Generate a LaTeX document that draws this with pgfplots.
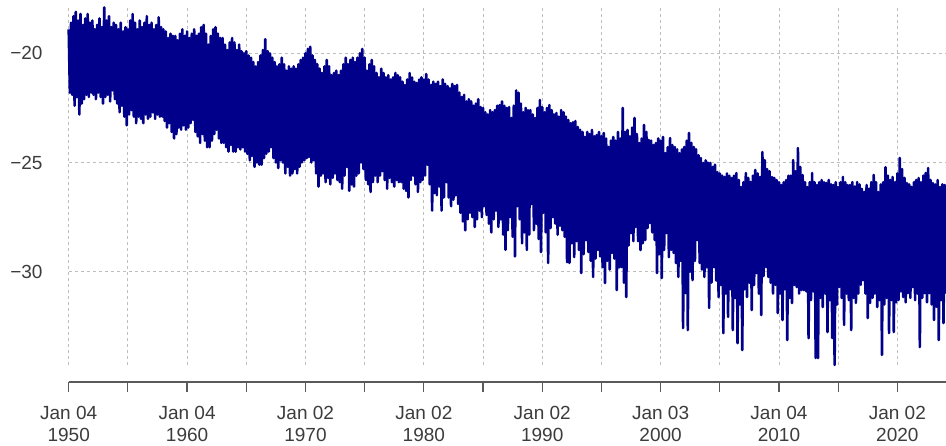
\documentclass[border=0pt]{standalone}
\usepackage{pgfplots}
\pgfplotsset{compat=1.18}
\usepackage{fontspec}
\setmainfont{Liberation Sans}
\definecolor{navyline}{RGB}{0,0,139}
\definecolor{gridgray}{RGB}{190,190,190}
\definecolor{axisgray}{RGB}{90,90,90}
\definecolor{labelgray}{RGB}{60,60,60}
\begin{document}
\begin{tikzpicture}
\useasboundingbox (0,0) rectangle (946bp,446bp);
\begin{axis}[
  at={(68.7bp,81bp)}, anchor=south west, scale only axis,
  width=877.3bp, height=358bp,
  xmin=1950, xmax=2024.11, ymin=-34.27, ymax=-17.88,
  axis line style={draw=none},
  xtick={1950,1955,...,2020}, xticklabels={},
  ytick={-30,-25,-20}, yticklabels={−30,−25,−20},
  major tick length=0pt,
  grid=major,
  grid style={dash pattern=on 3bp off 3bp, line width=0.9bp, color=gridgray},
  yticklabel style={font=\fontsize{19bp}{22bp}\selectfont, text=labelgray, anchor=east, inner sep=0pt, xshift=-26bp},
  clip=false,
]
\addplot[color=navyline, line width=2.6bp, line join=round] coordinates {
(1950.0,-18.9)(1950.1,-21.8)(1950.2,-18.6)(1950.3,-21.9)(1950.4,-18.3)(1950.5,-22.4)(1950.6,-18.1)(1950.7,-22.0)(1950.8,-18.5)(1950.9,-22.8)
(1951.0,-18.2)(1951.1,-22.3)(1951.2,-18.7)(1951.3,-22.1)(1951.4,-18.4)(1951.5,-21.9)(1951.6,-18.2)(1951.7,-22.0)(1951.8,-18.6)(1951.9,-21.8)
(1952.0,-18.5)(1952.1,-21.9)(1952.2,-18.9)(1952.3,-22.1)(1952.4,-18.7)(1952.5,-21.8)(1952.6,-18.4)(1952.7,-22.0)(1952.8,-18.8)(1952.9,-22.3)
(1953.0,-17.9)(1953.1,-22.0)(1953.2,-18.5)(1953.3,-21.9)(1953.4,-18.3)(1953.5,-22.2)(1953.6,-18.8)(1953.7,-21.7)(1953.8,-18.6)(1953.9,-22.1)
(1954.0,-18.7)(1954.1,-22.3)(1954.2,-18.9)(1954.3,-22.7)(1954.4,-18.6)(1954.5,-22.4)(1954.6,-19.0)(1954.7,-22.9)(1954.8,-18.8)(1954.9,-23.3)
(1955.0,-18.9)(1955.1,-22.8)(1955.2,-18.5)(1955.3,-22.6)(1955.4,-18.2)(1955.5,-22.9)(1955.6,-18.6)(1955.7,-23.2)(1955.8,-18.9)(1955.9,-22.9)
(1956.0,-18.5)(1956.1,-23.0)(1956.2,-18.8)(1956.3,-23.2)(1956.4,-18.6)(1956.5,-22.8)(1956.6,-18.3)(1956.7,-23.0)(1956.8,-18.7)(1956.9,-22.9)
(1957.0,-18.6)(1957.1,-22.7)(1957.2,-18.9)(1957.3,-23.0)(1957.4,-18.7)(1957.5,-22.8)(1957.6,-18.35)(1957.7,-22.9)(1957.8,-18.8)(1957.9,-22.9)
(1958.0,-18.9)(1958.1,-23.1)(1958.2,-19.0)(1958.3,-23.4)(1958.4,-19.3)(1958.5,-23.2)(1958.6,-19.1)(1958.7,-23.6)(1958.8,-19.2)(1958.9,-23.9)
(1959.0,-19.2)(1959.1,-23.7)(1959.2,-19.4)(1959.3,-23.4)(1959.4,-19.1)(1959.5,-23.5)(1959.6,-18.9)(1959.7,-23.3)(1959.8,-19.2)(1959.9,-23.5)
(1960.0,-19.0)(1960.1,-23.4)(1960.2,-19.3)(1960.3,-23.2)(1960.4,-19.1)(1960.5,-23.05)(1960.6,-18.9)(1960.7,-23.6)(1960.8,-19.2)(1960.9,-23.8)
(1961.0,-19.1)(1961.1,-24.1)(1961.2,-18.8)(1961.3,-23.7)(1961.4,-18.7)(1961.5,-24.0)(1961.6,-19.1)(1961.7,-24.3)(1961.8,-19.6)(1961.9,-24.3)
(1962.0,-19.2)(1962.1,-24.0)(1962.2,-18.9)(1962.3,-23.7)(1962.4,-18.8)(1962.5,-23.5)(1962.6,-19.1)(1962.7,-23.9)(1962.8,-19.3)(1962.9,-24.1)
(1963.0,-19.3)(1963.1,-24.1)(1963.2,-19.6)(1963.3,-24.3)(1963.4,-19.85)(1963.5,-24.5)(1963.6,-19.5)(1963.7,-24.2)(1963.8,-19.3)(1963.9,-24.5)
(1964.0,-19.5)(1964.1,-24.5)(1964.2,-19.85)(1964.3,-24.3)(1964.4,-19.6)(1964.5,-24.4)(1964.6,-19.9)(1964.7,-24.3)(1964.8,-20.0)(1964.9,-24.5)
(1965.0,-19.9)(1965.1,-24.6)(1965.2,-20.1)(1965.3,-24.9)(1965.4,-20.2)(1965.5,-24.7)(1965.6,-20.4)(1965.7,-25.2)(1965.8,-20.6)(1965.9,-25.0)
(1966.0,-20.4)(1966.1,-25.1)(1966.2,-20.1)(1966.3,-25.1)(1966.4,-19.85)(1966.5,-24.8)(1966.6,-19.35)(1966.7,-24.6)(1966.8,-19.9)(1966.9,-24.5)
(1967.0,-20.0)(1967.1,-24.3)(1967.2,-20.2)(1967.3,-24.8)(1967.4,-20.4)(1967.5,-25.0)(1967.6,-20.6)(1967.7,-25.25)(1967.8,-20.5)(1967.9,-24.9)
(1968.0,-20.2)(1968.1,-25.0)(1968.2,-20.5)(1968.3,-25.5)(1968.4,-20.8)(1968.5,-25.2)(1968.6,-20.6)(1968.7,-25.6)(1968.8,-20.7)(1968.9,-25.5)
(1969.0,-20.6)(1969.1,-25.3)(1969.2,-20.7)(1969.3,-25.5)(1969.4,-20.5)(1969.5,-25.2)(1969.6,-20.3)(1969.7,-25.0)(1969.8,-20.2)(1969.9,-24.9)
(1970.0,-20.0)(1970.1,-24.8)(1970.2,-19.8)(1970.3,-24.75)(1970.4,-19.7)(1970.5,-25.0)(1970.6,-20.1)(1970.7,-24.9)(1970.8,-20.3)(1970.9,-25.5)
(1971.0,-20.5)(1971.1,-26.1)(1971.2,-20.7)(1971.3,-25.6)(1971.4,-20.9)(1971.5,-25.5)(1971.6,-20.6)(1971.7,-25.9)(1971.8,-20.3)(1971.9,-25.7)
(1972.0,-20.6)(1972.1,-26.0)(1972.2,-21.0)(1972.3,-25.7)(1972.4,-20.9)(1972.5,-25.5)(1972.6,-20.8)(1972.7,-25.8)(1972.8,-21.0)(1972.9,-25.9)
(1973.0,-20.8)(1973.1,-26.2)(1973.2,-20.5)(1973.3,-25.6)(1973.4,-20.2)(1973.5,-25.2)(1973.6,-20.5)(1973.7,-26.3)(1973.8,-20.3)(1973.9,-26.0)
(1974.0,-20.2)(1974.1,-26.1)(1974.2,-20.4)(1974.3,-25.6)(1974.4,-20.2)(1974.5,-25.5)(1974.6,-20.0)(1974.7,-25.0)(1974.8,-19.8)(1974.9,-25.3)
(1975.0,-20.2)(1975.1,-25.8)(1975.2,-20.8)(1975.3,-26.0)(1975.4,-20.5)(1975.5,-26.35)(1975.6,-20.3)(1975.7,-25.9)(1975.8,-20.6)(1975.9,-25.6)
(1976.0,-20.9)(1976.1,-25.9)(1976.2,-21.1)(1976.3,-25.6)(1976.4,-20.7)(1976.5,-25.4)(1976.6,-20.9)(1976.7,-25.8)(1976.8,-21.1)(1976.9,-26.2)
(1977.0,-21.0)(1977.1,-25.7)(1977.2,-21.2)(1977.3,-25.9)(1977.4,-21.1)(1977.5,-26.1)(1977.6,-20.9)(1977.7,-25.8)(1977.8,-21.0)(1977.9,-25.9)
(1978.0,-21.1)(1978.1,-25.9)(1978.2,-21.3)(1978.3,-26.2)(1978.4,-21.45)(1978.5,-26.3)(1978.6,-21.2)(1978.7,-26.6)(1978.8,-20.9)(1978.9,-25.8)
(1979.0,-21.1)(1979.1,-25.6)(1979.2,-21.3)(1979.3,-26.0)(1979.4,-21.36)(1979.5,-26.35)(1979.6,-21.2)(1979.7,-25.9)(1979.8,-21.1)(1979.9,-25.8)
(1980.0,-21.2)(1980.1,-25.6)(1980.2,-20.95)(1980.3,-25.1)(1980.4,-21.2)(1980.5,-26.0)(1980.6,-21.45)(1980.7,-27.2)(1980.8,-21.3)(1980.9,-26.4)
(1981.0,-21.4)(1981.1,-26.5)(1981.2,-21.3)(1981.3,-26.1)(1981.4,-21.5)(1981.5,-27.2)(1981.6,-21.2)(1981.7,-26.6)(1981.8,-21.4)(1981.9,-25.9)
(1982.0,-21.5)(1982.1,-26.6)(1982.2,-21.6)(1982.3,-27.0)(1982.4,-21.4)(1982.5,-26.7)(1982.6,-21.5)(1982.7,-26.5)(1982.8,-21.45)(1982.9,-26.9)
(1983.0,-21.8)(1983.1,-27.3)(1983.2,-22.0)(1983.3,-27.7)(1983.4,-21.9)(1983.5,-28.1)(1983.6,-22.2)(1983.7,-27.6)(1983.8,-22.1)(1983.9,-27.3)
(1984.0,-22.2)(1984.1,-27.5)(1984.2,-22.4)(1984.3,-27.95)(1984.4,-22.3)(1984.5,-27.6)(1984.6,-22.1)(1984.7,-27.2)(1984.8,-22.46)(1984.9,-27.5)
(1985.0,-22.5)(1985.1,-27.0)(1985.2,-22.7)(1985.3,-27.4)(1985.4,-22.8)(1985.5,-27.8)(1985.6,-22.6)(1985.7,-28.2)(1985.8,-22.7)(1985.9,-27.6)
(1986.0,-22.6)(1986.1,-27.2)(1986.2,-22.4)(1986.3,-27.95)(1986.4,-22.37)(1986.5,-27.6)(1986.6,-22.2)(1986.7,-28.3)(1986.8,-22.4)(1986.9,-29.0)
(1987.0,-22.5)(1987.1,-28.1)(1987.2,-22.46)(1987.3,-27.5)(1987.4,-22.96)(1987.5,-28.4)(1987.6,-22.4)(1987.7,-29.3)(1987.8,-21.7)(1987.9,-27.0)
(1988.0,-21.8)(1988.1,-27.6)(1988.2,-22.3)(1988.3,-28.7)(1988.4,-22.7)(1988.5,-28.2)(1988.6,-22.5)(1988.7,-29.0)(1988.8,-22.6)(1988.9,-28.3)
(1989.0,-22.6)(1989.1,-26.9)(1989.2,-22.8)(1989.3,-28.1)(1989.4,-22.96)(1989.5,-27.8)(1989.6,-22.5)(1989.7,-28.5)(1989.8,-22.14)(1989.9,-29.1)
(1990.0,-22.46)(1990.1,-27.3)(1990.2,-22.7)(1990.3,-28.2)(1990.4,-22.5)(1990.5,-29.6)(1990.6,-22.37)(1990.7,-28.0)(1990.8,-22.6)(1990.9,-27.5)
(1991.0,-22.8)(1991.1,-27.8)(1991.2,-22.73)(1991.3,-28.3)(1991.4,-22.9)(1991.5,-27.9)(1991.6,-22.6)(1991.7,-28.1)(1991.8,-22.7)(1991.9,-28.4)
(1992.0,-22.9)(1992.1,-29.56)(1992.2,-23.05)(1992.3,-29.6)(1992.4,-23.2)(1992.5,-28.7)(1992.6,-23.15)(1992.7,-29.33)(1992.8,-23.1)(1992.9,-28.6)
(1993.0,-23.37)(1993.1,-29.0)(1993.2,-23.5)(1993.3,-30.06)(1993.4,-23.6)(1993.5,-29.2)(1993.6,-23.83)(1993.7,-28.55)(1993.8,-23.6)(1993.9,-29.1)
(1994.0,-23.7)(1994.1,-29.5)(1994.2,-23.51)(1994.3,-30.24)(1994.4,-23.8)(1994.5,-29.4)(1994.6,-23.74)(1994.7,-29.0)(1994.8,-23.6)(1994.9,-29.3)
(1995.0,-23.8)(1995.1,-29.79)(1995.2,-23.65)(1995.3,-30.52)(1995.4,-23.9)(1995.5,-29.5)(1995.6,-24.29)(1995.7,-29.9)(1995.8,-24.0)(1995.9,-29.14)
(1996.0,-23.83)(1996.1,-29.4)(1996.2,-24.0)(1996.3,-30.84)(1996.4,-23.6)(1996.5,-29.8)(1996.6,-23.9)(1996.7,-29.79)(1996.8,-22.5)(1996.9,-30.5)
(1997.0,-23.6)(1997.1,-31.16)(1997.2,-23.51)(1997.3,-28.8)(1997.4,-23.8)(1997.5,-28.23)(1997.6,-23.4)(1997.7,-28.6)(1997.8,-22.96)(1997.9,-27.95)
(1998.0,-23.7)(1998.1,-28.6)(1998.2,-24.11)(1998.3,-29.01)(1998.4,-23.9)(1998.5,-28.7)(1998.6,-23.28)(1998.7,-28.55)(1998.8,-23.6)(1998.9,-28.0)
(1999.0,-23.97)(1999.1,-27.77)(1999.2,-24.0)(1999.3,-28.2)(1999.4,-24.2)(1999.5,-28.55)(1999.6,-24.11)(1999.7,-30.06)(1999.8,-23.9)(1999.9,-29.2)
(2000.0,-24.0)(2000.1,-30.29)(2000.2,-23.83)(2000.3,-29.0)(2000.4,-24.57)(2000.5,-28.23)(2000.6,-24.3)(2000.7,-29.33)(2000.8,-23.88)(2000.9,-29.0)
(2001.0,-24.2)(2001.1,-29.14)(2001.2,-24.29)(2001.3,-29.6)(2001.4,-24.4)(2001.5,-30.24)(2001.6,-24.57)(2001.7,-29.5)(2001.8,-24.4)(2001.9,-32.58)
(2002.0,-24.29)(2002.1,-30.98)(2002.2,-24.0)(2002.3,-32.67)(2002.4,-23.65)(2002.5,-30.0)(2002.6,-24.1)(2002.7,-30.38)(2002.8,-24.29)(2002.9,-29.5)
(2003.0,-24.4)(2003.1,-28.55)(2003.2,-24.66)(2003.3,-29.6)(2003.4,-24.8)(2003.5,-29.9)(2003.6,-25.02)(2003.7,-30.24)(2003.8,-24.9)(2003.9,-29.8)
(2004.0,-25.0)(2004.1,-31.66)(2004.2,-25.02)(2004.3,-30.5)(2004.4,-25.2)(2004.5,-29.79)(2004.6,-25.1)(2004.7,-30.4)(2004.8,-25.44)(2004.9,-31.16)
(2005.0,-25.5)(2005.1,-30.6)(2005.2,-25.6)(2005.3,-32.81)(2005.4,-25.66)(2005.5,-31.0)(2005.6,-25.5)(2005.7,-32.07)(2005.8,-25.6)(2005.9,-30.8)
(2006.0,-25.71)(2006.1,-32.67)(2006.2,-25.6)(2006.3,-31.2)(2006.4,-25.48)(2006.5,-33.27)(2006.6,-25.8)(2006.7,-31.5)(2006.8,-26.12)(2006.9,-33.59)
(2007.0,-25.9)(2007.1,-30.8)(2007.2,-25.48)(2007.3,-31.16)(2007.4,-25.7)(2007.5,-30.5)(2007.6,-25.89)(2007.7,-31.75)(2007.8,-25.6)(2007.9,-30.6)
(2008.0,-25.34)(2008.1,-30.06)(2008.2,-25.5)(2008.3,-31.0)(2008.4,-25.66)(2008.5,-31.98)(2008.6,-24.52)(2008.7,-30.2)(2008.8,-24.89)(2008.9,-29.79)
(2009.0,-25.3)(2009.1,-30.24)(2009.2,-25.4)(2009.3,-30.5)(2009.4,-25.66)(2009.5,-31.0)(2009.6,-25.7)(2009.7,-30.6)(2009.8,-25.8)(2009.9,-31.89)
(2010.0,-25.9)(2010.1,-31.0)(2010.2,-26.03)(2010.3,-32.21)(2010.4,-25.9)(2010.5,-30.8)(2010.6,-25.8)(2010.7,-33.13)(2010.8,-25.6)(2010.9,-31.2)
(2011.0,-25.6)(2011.1,-31.43)(2011.2,-24.89)(2011.3,-30.6)(2011.4,-25.4)(2011.5,-30.7)(2011.6,-24.34)(2011.7,-31.0)(2011.8,-25.2)(2011.9,-30.84)
(2012.0,-25.57)(2012.1,-30.84)(2012.2,-25.9)(2012.3,-30.9)(2012.4,-26.12)(2012.5,-33.04)(2012.6,-25.9)(2012.7,-31.3)(2012.8,-25.48)(2012.9,-30.9)
(2013.0,-25.9)(2013.1,-33.95)(2013.2,-26.03)(2013.3,-33.95)(2013.4,-25.9)(2013.5,-31.2)(2013.6,-25.8)(2013.7,-31.62)(2013.8,-25.9)(2013.9,-31.0)
(2014.0,-25.94)(2014.1,-32.76)(2014.2,-25.8)(2014.3,-31.3)(2014.4,-26.0)(2014.5,-33.04)(2014.6,-26.03)(2014.7,-34.27)(2014.8,-25.9)(2014.9,-31.5)
(2015.0,-26.12)(2015.1,-30.7)(2015.2,-25.9)(2015.3,-31.2)(2015.4,-25.66)(2015.5,-32.44)(2015.6,-25.9)(2015.7,-31.0)(2015.8,-26.03)(2015.9,-31.3)
(2016.0,-26.03)(2016.1,-32.67)(2016.2,-25.9)(2016.3,-31.2)(2016.4,-26.1)(2016.5,-31.43)(2016.6,-25.89)(2016.7,-31.0)(2016.8,-26.0)(2016.9,-30.6)
(2017.0,-26.2)(2017.1,-30.38)(2017.2,-26.35)(2017.3,-31.0)(2017.4,-26.03)(2017.5,-32.12)(2017.6,-26.2)(2017.7,-31.43)(2017.8,-25.9)(2017.9,-31.2)
(2018.0,-25.57)(2018.1,-31.0)(2018.2,-25.9)(2018.3,-31.62)(2018.4,-26.35)(2018.5,-31.3)(2018.6,-26.0)(2018.7,-33.81)(2018.8,-25.9)(2018.9,-31.5)
(2019.0,-25.21)(2019.1,-31.2)(2019.2,-25.6)(2019.3,-32.81)(2019.4,-25.8)(2019.5,-31.3)(2019.6,-25.66)(2019.7,-32.76)(2019.8,-25.9)(2019.9,-31.4)
(2020.0,-25.5)(2020.1,-31.3)(2020.2,-24.79)(2020.3,-30.9)(2020.4,-25.3)(2020.5,-31.16)(2020.6,-25.7)(2020.7,-31.4)(2020.8,-25.94)(2020.9,-30.98)
(2021.0,-26.0)(2021.1,-31.2)(2021.2,-26.12)(2021.3,-30.7)(2021.4,-25.9)(2021.5,-31.3)(2021.6,-25.8)(2021.7,-31.0)(2021.8,-25.71)(2021.9,-33.45)
(2022.0,-25.9)(2022.1,-31.2)(2022.2,-25.6)(2022.3,-30.98)(2022.4,-25.48)(2022.5,-31.4)(2022.6,-25.25)(2022.7,-30.98)(2022.8,-25.8)(2022.9,-31.5)
(2023.0,-25.94)(2023.1,-32.21)(2023.2,-26.0)(2023.3,-31.6)(2023.4,-25.8)(2023.5,-33.13)(2023.6,-26.12)(2023.7,-31.3)(2023.8,-26.0)(2023.9,-32.35)
(2024.0,-26.03)(2024.1,-31.0)
};
\end{axis}
\begin{axis}[
  at={(68.7bp,64bp)}, anchor=south west, scale only axis,
  width=877.3bp, height=10bp,
  xmin=1950, xmax=2024.11, ymin=0, ymax=1,
  axis y line=none, axis x line*=bottom,
  x axis line style={color=axisgray, line width=1.2bp},
  xtick={1950,1955,...,2020},
  xticklabels={{Jan 04\\1950},{},{Jan 04\\1960},{},{Jan 02\\1970},{},{Jan 02\\1980},{},{Jan 02\\1990},{},{Jan 03\\2000},{},{Jan 04\\2010},{},{Jan 02\\2020}},
  tick align=outside, major tick length=10bp,
  xtick style={color=axisgray, line width=1.2bp},
  xticklabel style={font=\fontsize{19bp}{22bp}\selectfont, text=labelgray, align=center, anchor=north, inner sep=0pt, yshift=-14bp},
]
\end{axis}
\end{tikzpicture}
\end{document}
